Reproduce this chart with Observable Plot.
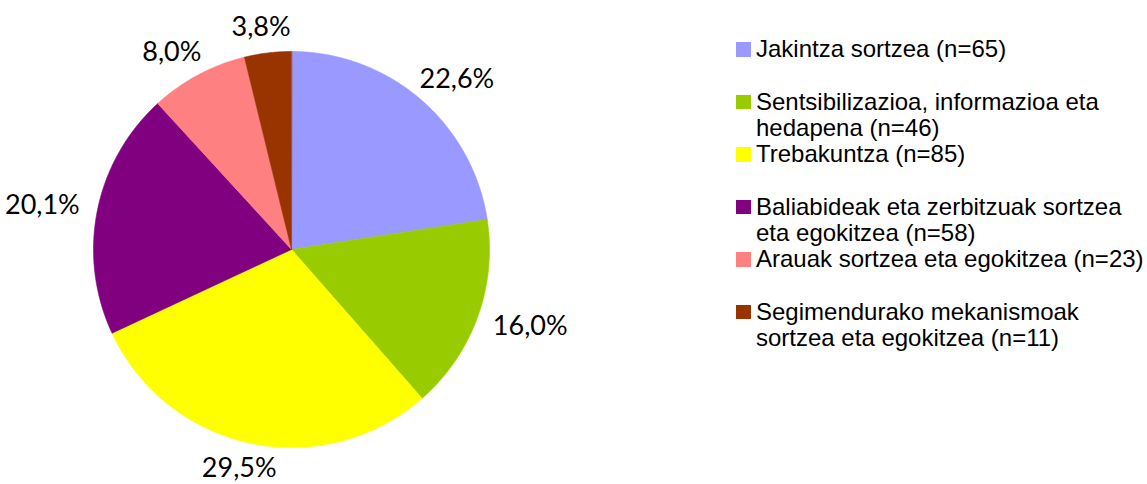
<!DOCTYPE html>
<html>
<head>
<meta charset="utf-8">
<script src="https://cdn.jsdelivr.net/npm/d3@7"></script>
<script src="https://cdn.jsdelivr.net/npm/@observablehq/plot@0.6"></script>
<style>
  html, body { margin: 0; padding: 0; background: #fff; }
  #wrap { position: relative; width: 1147px; height: 484px; overflow: hidden; }
  #chart { position: absolute; left: 0; top: 0; }
  #legend { position: absolute; left: 736px; top: 36px; font-family: "Liberation Sans", Arial, sans-serif; font-size: 24px; line-height: 26.3px; color: #000; }
  .item { display: flex; align-items: flex-start; height: 52.6px; white-space: nowrap; }
  .sw { width: 14.5px; height: 14.5px; margin-top: 6px; margin-right: 5.5px; flex: none; }
</style>
</head>
<body>
<div id="wrap"><div id="chart"></div><div id="legend"></div></div>
<script>
// ---- data ----
const categories = [
  "Jakintza sortzea",
  "Sentsibilizazioa, informazioa eta hedapena",
  "Trebakuntza",
  "Baliabideak eta zerbitzuak sortzea eta egokitzea",
  "Arauak sortzea eta egokitzea",
  "Segimendurako mekanismoak sortzea eta egokitzea"
];
const counts = [65, 46, 85, 58, 23, 11];
const legendLines = [
  ["Jakintza sortzea (n=65)"],
  ["Sentsibilizazioa, informazioa eta", "hedapena (n=46)"],
  ["Trebakuntza (n=85)"],
  ["Baliabideak eta zerbitzuak sortzea", "eta egokitzea (n=58)"],
  ["Arauak sortzea eta egokitzea (n=23)"],
  ["Segimendurako mekanismoak", "sortzea eta egokitzea (n=11)"]
];
const colors = ["#9999FF", "#99CC00", "#FFFF00", "#800080", "#FF8080", "#993300"];

// ---- layout ----
const W = 700, H = 484, CX = 291, CY = 249, R = 198;
const total = d3.sum(counts);

// slice polygons
const pie = d3.pie().sort(null).value(d => d)(counts);
const polys = [];
const labels = [];
pie.forEach((p, i) => {
  const a0 = p.startAngle, a1 = p.endAngle;
  const n = Math.max(2, Math.ceil((a1 - a0) / (Math.PI / 360)));
  polys.push({name: categories[i], x: 0, y: 0});
  for (let k = 0; k <= n; k++) {
    const a = a0 + (a1 - a0) * k / n;
    polys.push({name: categories[i], x: R * Math.sin(a), y: -R * Math.cos(a)});
  }
  const m = (a0 + a1) / 2, s = Math.sin(m), c = Math.cos(m);
  const rr = R + 14, bw = 84, bh = 24;
  labels.push({
    x: rr * s + s * bw / 2,
    y: -rr * c - c * bh / 2,
    text: (counts[i] / total * 100).toFixed(1).replace(".", ",") + "%"
  });
});

const plot = Plot.plot({
  width: W, height: H, margin: 0,
  x: {domain: [-CX, W - CX], range: [0, W], axis: null},
  y: {domain: [-CY, H - CY], range: [0, H], axis: null},
  color: {domain: categories, range: colors},
  style: {background: "transparent", overflow: "visible"},
  marks: [
    Plot.line(polys, {x: "x", y: "y", z: "name", fill: "name", stroke: "name", strokeWidth: 0.6, curve: "linear-closed"}),
    Plot.text(labels, {x: "x", y: "y", text: "text", fontFamily: "Lato, 'Open Sans', sans-serif", fontSize: 27, fill: "#000", textAnchor: "middle", lineAnchor: "middle"})
  ]
});
document.getElementById("chart").appendChild(plot);

// legend
const leg = document.getElementById("legend");
legendLines.forEach((lines, i) => {
  const it = document.createElement("div");
  it.className = "item";
  const sw = document.createElement("div");
  sw.className = "sw";
  sw.style.background = colors[i];
  const tx = document.createElement("div");
  tx.innerHTML = lines.join("<br>");
  it.appendChild(sw); it.appendChild(tx);
  leg.appendChild(it);
});
</script>
</body>
</html>
